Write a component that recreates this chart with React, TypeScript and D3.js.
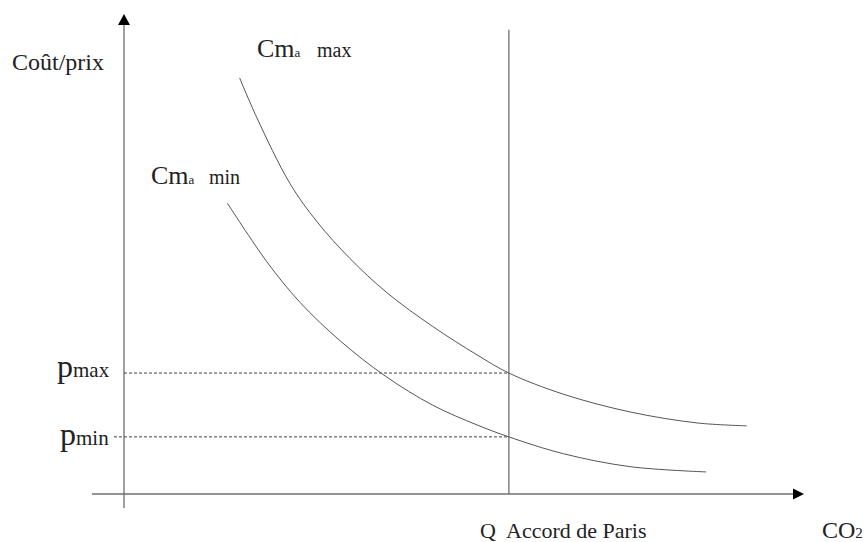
import React from "react";
import * as d3 from "d3";

// Marginal abatement cost curves (arbitrary units: quantity 0-100, cost 0-100)
const cmaMaxX = [17, 19.5, 24.4, 28.4, 33.2, 38.7, 45.4, 51.9, 56.6, 64.6, 74.4, 84.3, 91.6];
const cmaMaxY = [86.7, 78.5, 64.7, 56.7, 49.1, 41.9, 34.9, 29.0, 25.2, 20.8, 17.1, 14.8, 14.2];
const cmaMinX = [15.2, 21.0, 25.9, 31.8, 38.4, 45.4, 51.9, 56.6, 64.6, 74.4, 85.6];
const cmaMinY = [60.6, 48.4, 39.9, 31.9, 24.6, 18.5, 14.4, 11.9, 8.4, 5.7, 4.6];

const qParis = 56.6;
const pMax = 25.2;
const pMin = 11.9;
const xAxisStart = -4.7;
const yAxisBottom = -2.9;
const qLineTop = 96.7;

const W = 867;
const H = 542;
const FONT = "'Liberation Serif', 'Times New Roman', serif";

export default function App() {
  const x = d3.scaleLinear().domain([0, 100]).range([124, 804]);
  const y = d3.scaleLinear().domain([0, 100]).range([494, 14]);

  const line = d3
    .line<[number, number]>()
    .x((d) => x(d[0]))
    .y((d) => y(d[1]))
    .curve(d3.curveCatmullRom.alpha(0.5));

  const maxPts = cmaMaxX.map((v, i) => [v, cmaMaxY[i]] as [number, number]);
  const minPts = cmaMinX.map((v, i) => [v, cmaMinY[i]] as [number, number]);

  const axisColor = "#6f6f6f";
  const curveColor = "#555";
  const textColor = "#222";

  const x0 = x(0);
  const y0 = y(0);
  const xEnd = x(100);
  const yTop = y(100);

  return (
    <svg
      width={W}
      height={H}
      style={{ position: "absolute", left: 0, top: 0, background: "#fff" }}
    >
      <rect width={W} height={H} fill="#fff" />
      {/* y axis */}
      <line x1={x0} x2={x0} y1={y(yAxisBottom)} y2={yTop + 10} stroke={axisColor} strokeWidth={1.3} />
      <path d={`M${x0},${yTop} L${x0 - 6},${yTop + 11} L${x0 + 6},${yTop + 11} Z`} fill="#000" />
      {/* x axis */}
      <line x1={x(xAxisStart)} x2={xEnd - 10} y1={y0} y2={y0} stroke={axisColor} strokeWidth={1.3} />
      <path d={`M${xEnd},${y0} L${xEnd - 11},${y0 - 5.5} L${xEnd - 11},${y0 + 5.5} Z`} fill="#000" />
      {/* Q line */}
      <line x1={x(qParis)} x2={x(qParis)} y1={y(qLineTop)} y2={y0} stroke={axisColor} strokeWidth={1.3} />
      {/* dashed price lines */}
      <line x1={x0} x2={x(qParis)} y1={y(pMax)} y2={y(pMax)} stroke="#444" strokeWidth={1} strokeDasharray="3,2" />
      <line x1={x0 - 10} x2={x(qParis)} y1={y(pMin)} y2={y(pMin)} stroke="#444" strokeWidth={1} strokeDasharray="3,2" />
      {/* curves */}
      <path d={line(maxPts) || ""} fill="none" stroke={curveColor} strokeWidth={1} />
      <path d={line(minPts) || ""} fill="none" stroke={curveColor} strokeWidth={1} />

      {/* labels */}
      <g fontFamily={FONT} fill={textColor}>
        <text x={12} y={70} fontSize={24}>Coût/prix</text>
        <text x={257} y={57} fontSize={26}>
          Cm<tspan fontSize={13}>a</tspan>
          <tspan x={317} fontSize={20}>max</tspan>
        </text>
        <text x={151} y={184} fontSize={26}>
          Cm<tspan fontSize={13}>a</tspan>
          <tspan x={209} fontSize={20}>min</tspan>
        </text>
        <text x={57} y={377} fontSize={32}>
          p<tspan fontSize={21}>max</tspan>
        </text>
        <text x={60} y={445} fontSize={32}>
          p<tspan fontSize={21}>min</tspan>
        </text>
        <text x={480} y={538} fontSize={22}>
          Q<tspan x={506}>Accord de Paris</tspan>
        </text>
        <text x={822} y={538} fontSize={24}>
          CO<tspan fontSize={15}>2</tspan>
        </text>
      </g>
    </svg>
  );
}
